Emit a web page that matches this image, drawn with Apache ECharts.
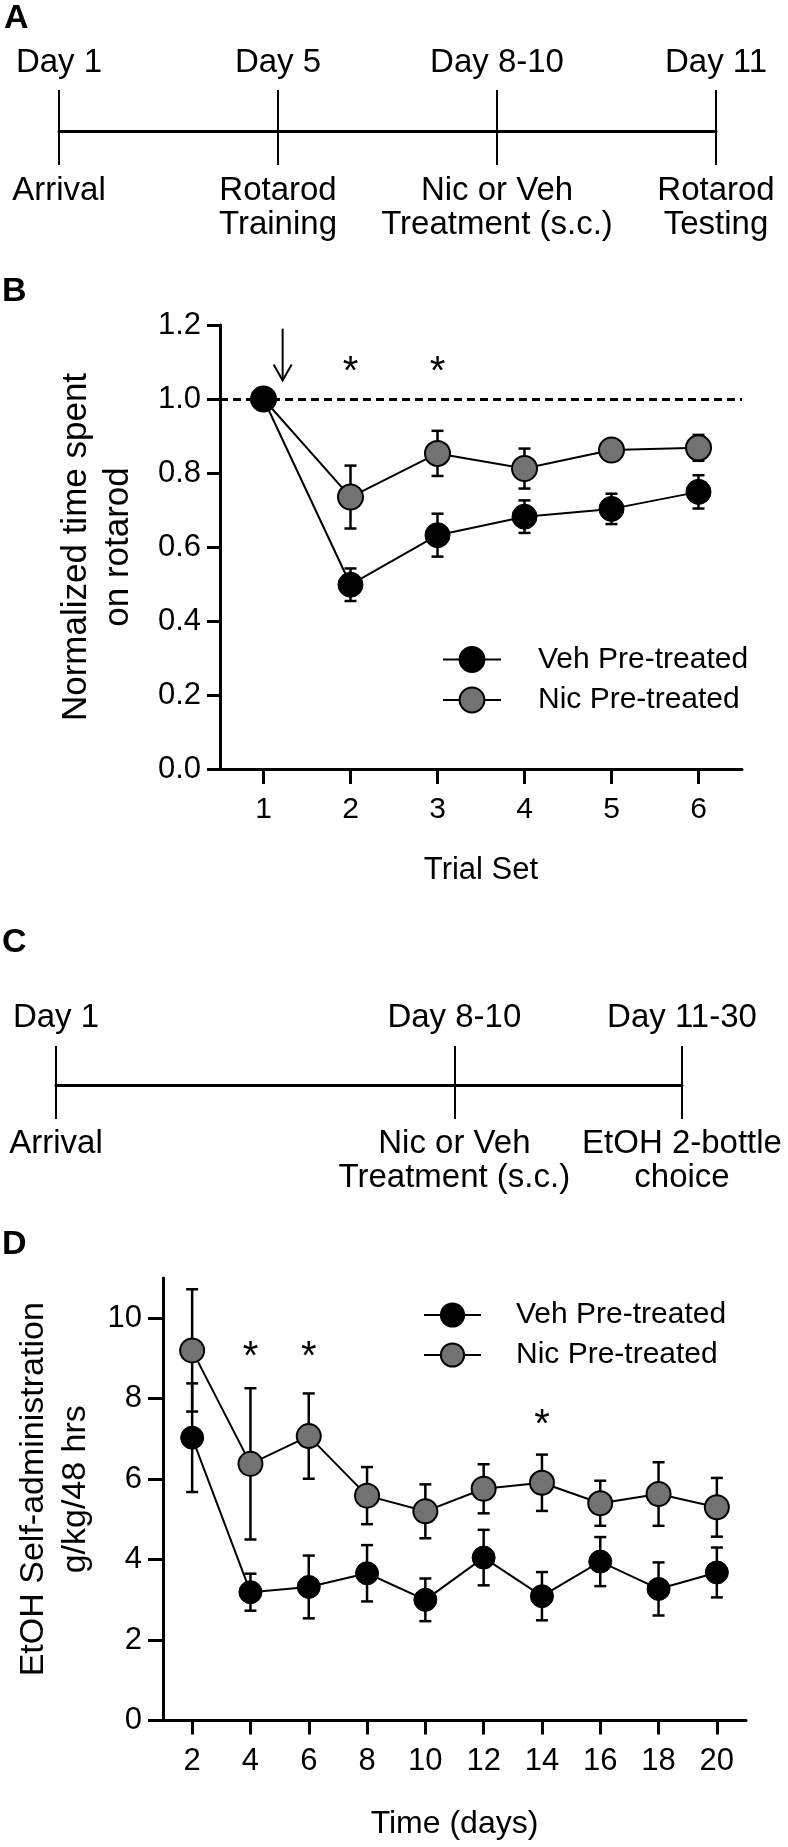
<!DOCTYPE html>
<html>
<head>
<meta charset="utf-8">
<script src="https://cdn.jsdelivr.net/npm/echarts@6/dist/echarts.min.js"></script>
<style>
  html, body { margin: 0; padding: 0; background: #fff; }
  #chart { width: 788px; height: 1847px; }
</style>
</head>
<body>
<div id="chart"></div>
<script>
// ---------------- DATA ----------------
// Panel A timeline
const timelineA_slots = [0, 1, 2, 3];
const timelineA_days = ['Day 1', 'Day 5', 'Day 8-10', 'Day 11'];
const timelineA_events = ['Arrival', 'Rotarod\nTraining', 'Nic or Veh\nTreatment (s.c.)', 'Rotarod\nTesting'];

// Panel C timeline
const timelineC_slots = [0, 7, 11];
const timelineC_days = ['Day 1', 'Day 8-10', 'Day 11-30'];
const timelineC_events = ['Arrival', 'Nic or Veh\nTreatment (s.c.)', 'EtOH 2-bottle\nchoice'];

// Panel B: rotarod
const trialSets = [1, 2, 3, 4, 5, 6];
const vehB = [1.00, 0.498, 0.632, 0.682, 0.703, 0.749];
const vehB_sem = [0, 0.044, 0.058, 0.044, 0.041, 0.045];
const nicB = [1.00, 0.735, 0.853, 0.812, 0.862, 0.868];
const nicB_sem = [0, 0.085, 0.061, 0.054, 0.012, 0.035];
const yTicksB = [0, 0.2, 0.4, 0.6, 0.8, 1.0, 1.2];
const sigTrialsB = [2, 3];
const sigLevelB = [1.07, 1.07];
const arrowB = [[1.22, 1.19, 1.05]]; // trial-set position, top value, tip value

// Panel D: EtOH self-administration
const daysD = [2, 4, 6, 8, 10, 12, 14, 16, 18, 20];
const vehD = [7.03, 3.19, 3.32, 3.66, 3.00, 4.05, 3.09, 3.95, 3.27, 3.68];
const vehD_sem = [1.35, 0.46, 0.78, 0.70, 0.53, 0.69, 0.60, 0.61, 0.66, 0.62];
const nicD = [9.20, 6.38, 7.07, 5.59, 5.20, 5.76, 5.91, 5.40, 5.63, 5.30];
const nicD_sem = [1.52, 1.88, 1.06, 0.71, 0.67, 0.61, 0.70, 0.56, 0.79, 0.73];
const yTicksD = [0, 2, 4, 6, 8, 10];
const sigDaysD = [4, 6, 14];
const sigLevelD = [9.0, 9.0, 7.32];

const seriesNames = ['Veh Pre-treated', 'Nic Pre-treated'];

// ---------------- CHART ----------------
const FONT = '"Liberation Sans", Arial, Helvetica, sans-serif';
const BLACK = '#000000';
const GRAY = '#727272';

const zip = (xs, ys) => xs.map((x, i) => [x, ys[i]]);
const zip3 = (xs, ys, es) => xs.map((x, i) => [x, ys[i], es[i]]);

function errRender(params, api) {
  const x = api.value(0), m = api.value(1), e = api.value(2);
  if (!e) return null;
  const p1 = api.coord([x, m + e]);
  const p2 = api.coord([x, m - e]);
  const w = 6;
  const st = { stroke: BLACK, lineWidth: 2.5 };
  return {
    type: 'group',
    children: [
      { type: 'line', shape: { x1: p1[0], y1: p1[1], x2: p2[0], y2: p2[1] }, style: st },
      { type: 'line', shape: { x1: p1[0] - w, y1: p1[1], x2: p1[0] + w, y2: p1[1] }, style: st },
      { type: 'line', shape: { x1: p2[0] - w, y1: p2[1], x2: p2[0] + w, y2: p2[1] }, style: st }
    ]
  };
}

function starRender(params, api) {
  const p = api.coord([api.value(0), api.value(1)]);
  return {
    type: 'text', x: p[0], y: p[1],
    style: { text: '*', fontSize: 40, fontFamily: FONT, fill: BLACK, align: 'center', verticalAlign: 'middle' }
  };
}

function arrowRender(params, api) {
  const x = api.value(0);
  const top = api.coord([x, api.value(1)]);
  const tip = api.coord([x, api.value(2)]);
  const st = { stroke: BLACK, lineWidth: 2, fill: null };
  return {
    type: 'group',
    children: [
      { type: 'line', shape: { x1: top[0], y1: top[1], x2: tip[0], y2: tip[1] }, style: st },
      { type: 'polyline', shape: { points: [[tip[0] - 9, tip[1] - 16], [tip[0], tip[1]], [tip[0] + 9, tip[1] - 16]] }, style: st }
    ]
  };
}

const baseText = { fontFamily: FONT, color: BLACK };

function timelineAxes(gridIndex, slots, days, events, maxSlot, topMargin, botMargin, upLen, downLen) {
  return [
    {
      gridIndex, type: 'value', position: 'top', min: 0, max: maxSlot,
      axisLine: { show: true, onZero: false, lineStyle: { color: BLACK, width: 3 } },
      axisTick: { show: true, customValues: slots, length: upLen, lineStyle: { color: BLACK, width: 2 } },
      axisLabel: {
        show: true, customValues: slots, margin: topMargin,
        formatter: v => days[slots.indexOf(v)],
        ...baseText, fontSize: 33, lineHeight: 33
      },
      splitLine: { show: false }
    },
    {
      gridIndex, type: 'value', position: 'bottom', min: 0, max: maxSlot,
      axisLine: { show: false, onZero: false },
      axisTick: { show: true, customValues: slots, length: downLen, lineStyle: { color: BLACK, width: 2 } },
      axisLabel: {
        show: true, customValues: slots, margin: botMargin,
        formatter: v => events[slots.indexOf(v)],
        ...baseText, fontSize: 33, lineHeight: 34
      },
      splitLine: { show: false }
    }
  ];
}

const axisLineStyle = { show: true, onZero: false, lineStyle: { color: BLACK, width: 3 } };
const tickStyle = { lineStyle: { color: BLACK, width: 3 } };

const option = {
  animation: false,
  backgroundColor: '#ffffff',
  textStyle: { fontFamily: FONT },
  graphic: [
    { type: 'text', x: 4, y: 19, style: { text: 'A', font: 'bold 34px ' + FONT, fill: BLACK, verticalAlign: 'middle' } },
    { type: 'text', x: 2, y: 292, style: { text: 'B', font: 'bold 34px ' + FONT, fill: BLACK, verticalAlign: 'middle' } },
    { type: 'text', x: 2, y: 943, style: { text: 'C', font: 'bold 34px ' + FONT, fill: BLACK, verticalAlign: 'middle' } },
    { type: 'text', x: 2, y: 1245, style: { text: 'D', font: 'bold 34px ' + FONT, fill: BLACK, verticalAlign: 'middle' } }
  ],
  grid: [
    { left: 59, top: 131, width: 657, height: 0 },
    { left: 220, top: 325, width: 522, height: 444 },
    { left: 56, top: 1085, width: 626, height: 0 },
    { left: 163, top: 1278, width: 583, height: 442.5 }
  ],
  xAxis: [
    ...timelineAxes(0, timelineA_slots, timelineA_days, timelineA_events, 3, 52, 43, 41, 34),
    {
      gridIndex: 1, type: 'value', min: 0.5, max: 6.5,
      axisLine: axisLineStyle,
      axisTick: { show: true, customValues: trialSets, length: 15, ...tickStyle },
      axisLabel: { show: true, customValues: trialSets, margin: 26, ...baseText, fontSize: 30 },
      splitLine: { show: false },
      name: 'Trial Set', nameLocation: 'middle', nameGap: 86,
      nameTextStyle: { ...baseText, fontSize: 31, lineHeight: 30 }
    },
    ...timelineAxes(2, timelineC_slots, timelineC_days, timelineC_events, 11, 51, 42, 39, 34),
    {
      gridIndex: 3, type: 'value', min: 1, max: 21,
      axisLine: axisLineStyle,
      axisTick: { show: true, customValues: daysD, length: 14, ...tickStyle },
      axisLabel: { show: true, customValues: daysD, margin: 25, ...baseText, fontSize: 31 },
      splitLine: { show: false },
      name: 'Time (days)', nameLocation: 'middle', nameGap: 88,
      nameTextStyle: { ...baseText, fontSize: 32, lineHeight: 32 }
    }
  ],
  yAxis: [
    { gridIndex: 0, type: 'value', show: false },
    {
      gridIndex: 1, type: 'value', min: 0, max: 1.2,
      axisLine: axisLineStyle,
      axisTick: { show: true, customValues: yTicksB, length: 13, ...tickStyle },
      axisLabel: { show: true, customValues: yTicksB, margin: 19, formatter: v => v.toFixed(1), ...baseText, fontSize: 31 },
      splitLine: { show: false },
      name: 'Normalized time spent\non rotarod', nameLocation: 'middle', nameGap: 81, nameRotate: 90,
      nameTextStyle: { ...baseText, fontSize: 35, lineHeight: 42 }
    },
    { gridIndex: 2, type: 'value', show: false },
    {
      gridIndex: 3, type: 'value', min: 0, max: 11,
      axisLine: axisLineStyle,
      axisTick: { show: true, customValues: yTicksD, length: 15, ...tickStyle },
      axisLabel: { show: true, customValues: yTicksD, margin: 21, ...baseText, fontSize: 31 },
      splitLine: { show: false },
      name: 'EtOH Self-administration\ng/kg/48 hrs', nameLocation: 'middle', nameGap: 65, nameRotate: 90,
      nameTextStyle: { ...baseText, fontSize: 34, lineHeight: 42, padding: [0, 0, 0, 20] }
    }
  ],
  legend: [
    {
      data: seriesNames, orient: 'vertical', left: 437, top: 639,
      itemWidth: 58, itemHeight: 31, itemGap: 9.5, selectedMode: false,
      textStyle: { ...baseText, fontSize: 30, lineHeight: 31, padding: [0, 0, 0, 32] }
    },
    {
      data: seriesNames, orient: 'vertical', left: 418, top: 1295,
      itemWidth: 57, itemHeight: 29, itemGap: 10, selectedMode: false,
      textStyle: { ...baseText, fontSize: 30, lineHeight: 29, padding: [0, 0, 0, 30] }
    }
  ],
  series: [
    // ---- Panel B ----
    {
      type: 'custom', name: 'nicB_err', xAxisIndex: 2, yAxisIndex: 1, z: 2,
      renderItem: errRender, data: zip3(trialSets, nicB, nicB_sem)
    },
    {
      type: 'custom', name: 'vehB_err', xAxisIndex: 2, yAxisIndex: 1, z: 2,
      renderItem: errRender, data: zip3(trialSets, vehB, vehB_sem)
    },
    {
      type: 'line', name: seriesNames[1], xAxisIndex: 2, yAxisIndex: 1, z: 3,
      data: zip(trialSets, nicB),
      symbol: 'circle', symbolSize: 25, showAllSymbol: true,
      itemStyle: { color: GRAY, borderColor: BLACK, borderWidth: 2 },
      lineStyle: { color: BLACK, width: 2 },
      markLine: {
        silent: true, symbol: ['none', 'none'], label: { show: false }, z: 1,
        lineStyle: { color: BLACK, width: 3, type: [8, 5] },
        data: [{ yAxis: 1.0 }]
      }
    },
    {
      type: 'line', name: seriesNames[0], xAxisIndex: 2, yAxisIndex: 1, z: 4,
      data: zip(trialSets, vehB),
      symbol: 'circle', symbolSize: 25, showAllSymbol: true,
      itemStyle: { color: BLACK, borderColor: BLACK, borderWidth: 1 },
      lineStyle: { color: BLACK, width: 2 }
    },
    {
      type: 'custom', name: 'starsB', xAxisIndex: 2, yAxisIndex: 1, z: 5,
      renderItem: starRender, data: zip(sigTrialsB, sigLevelB)
    },
    {
      type: 'custom', name: 'arrowB', xAxisIndex: 2, yAxisIndex: 1, z: 5,
      renderItem: arrowRender, data: arrowB
    },
    // ---- Panel D ----
    {
      type: 'custom', name: 'nicD_err', xAxisIndex: 5, yAxisIndex: 3, z: 2,
      renderItem: errRender, data: zip3(daysD, nicD, nicD_sem)
    },
    {
      type: 'custom', name: 'vehD_err', xAxisIndex: 5, yAxisIndex: 3, z: 2,
      renderItem: errRender, data: zip3(daysD, vehD, vehD_sem)
    },
    {
      type: 'line', name: seriesNames[1], xAxisIndex: 5, yAxisIndex: 3, z: 3,
      data: zip(daysD, nicD),
      symbol: 'circle', symbolSize: 24, showAllSymbol: true,
      itemStyle: { color: GRAY, borderColor: BLACK, borderWidth: 2 },
      lineStyle: { color: BLACK, width: 2 }
    },
    {
      type: 'line', name: seriesNames[0], xAxisIndex: 5, yAxisIndex: 3, z: 4,
      data: zip(daysD, vehD),
      symbol: 'circle', symbolSize: 23, showAllSymbol: true,
      itemStyle: { color: BLACK, borderColor: BLACK, borderWidth: 1 },
      lineStyle: { color: BLACK, width: 2 }
    },
    {
      type: 'custom', name: 'starsD', xAxisIndex: 5, yAxisIndex: 3, z: 5,
      renderItem: starRender, data: zip(sigDaysD, sigLevelD)
    }
  ]
};

const chart = echarts.init(document.getElementById('chart'), null, { renderer: 'canvas' });
chart.setOption(option);
</script>
</body>
</html>
